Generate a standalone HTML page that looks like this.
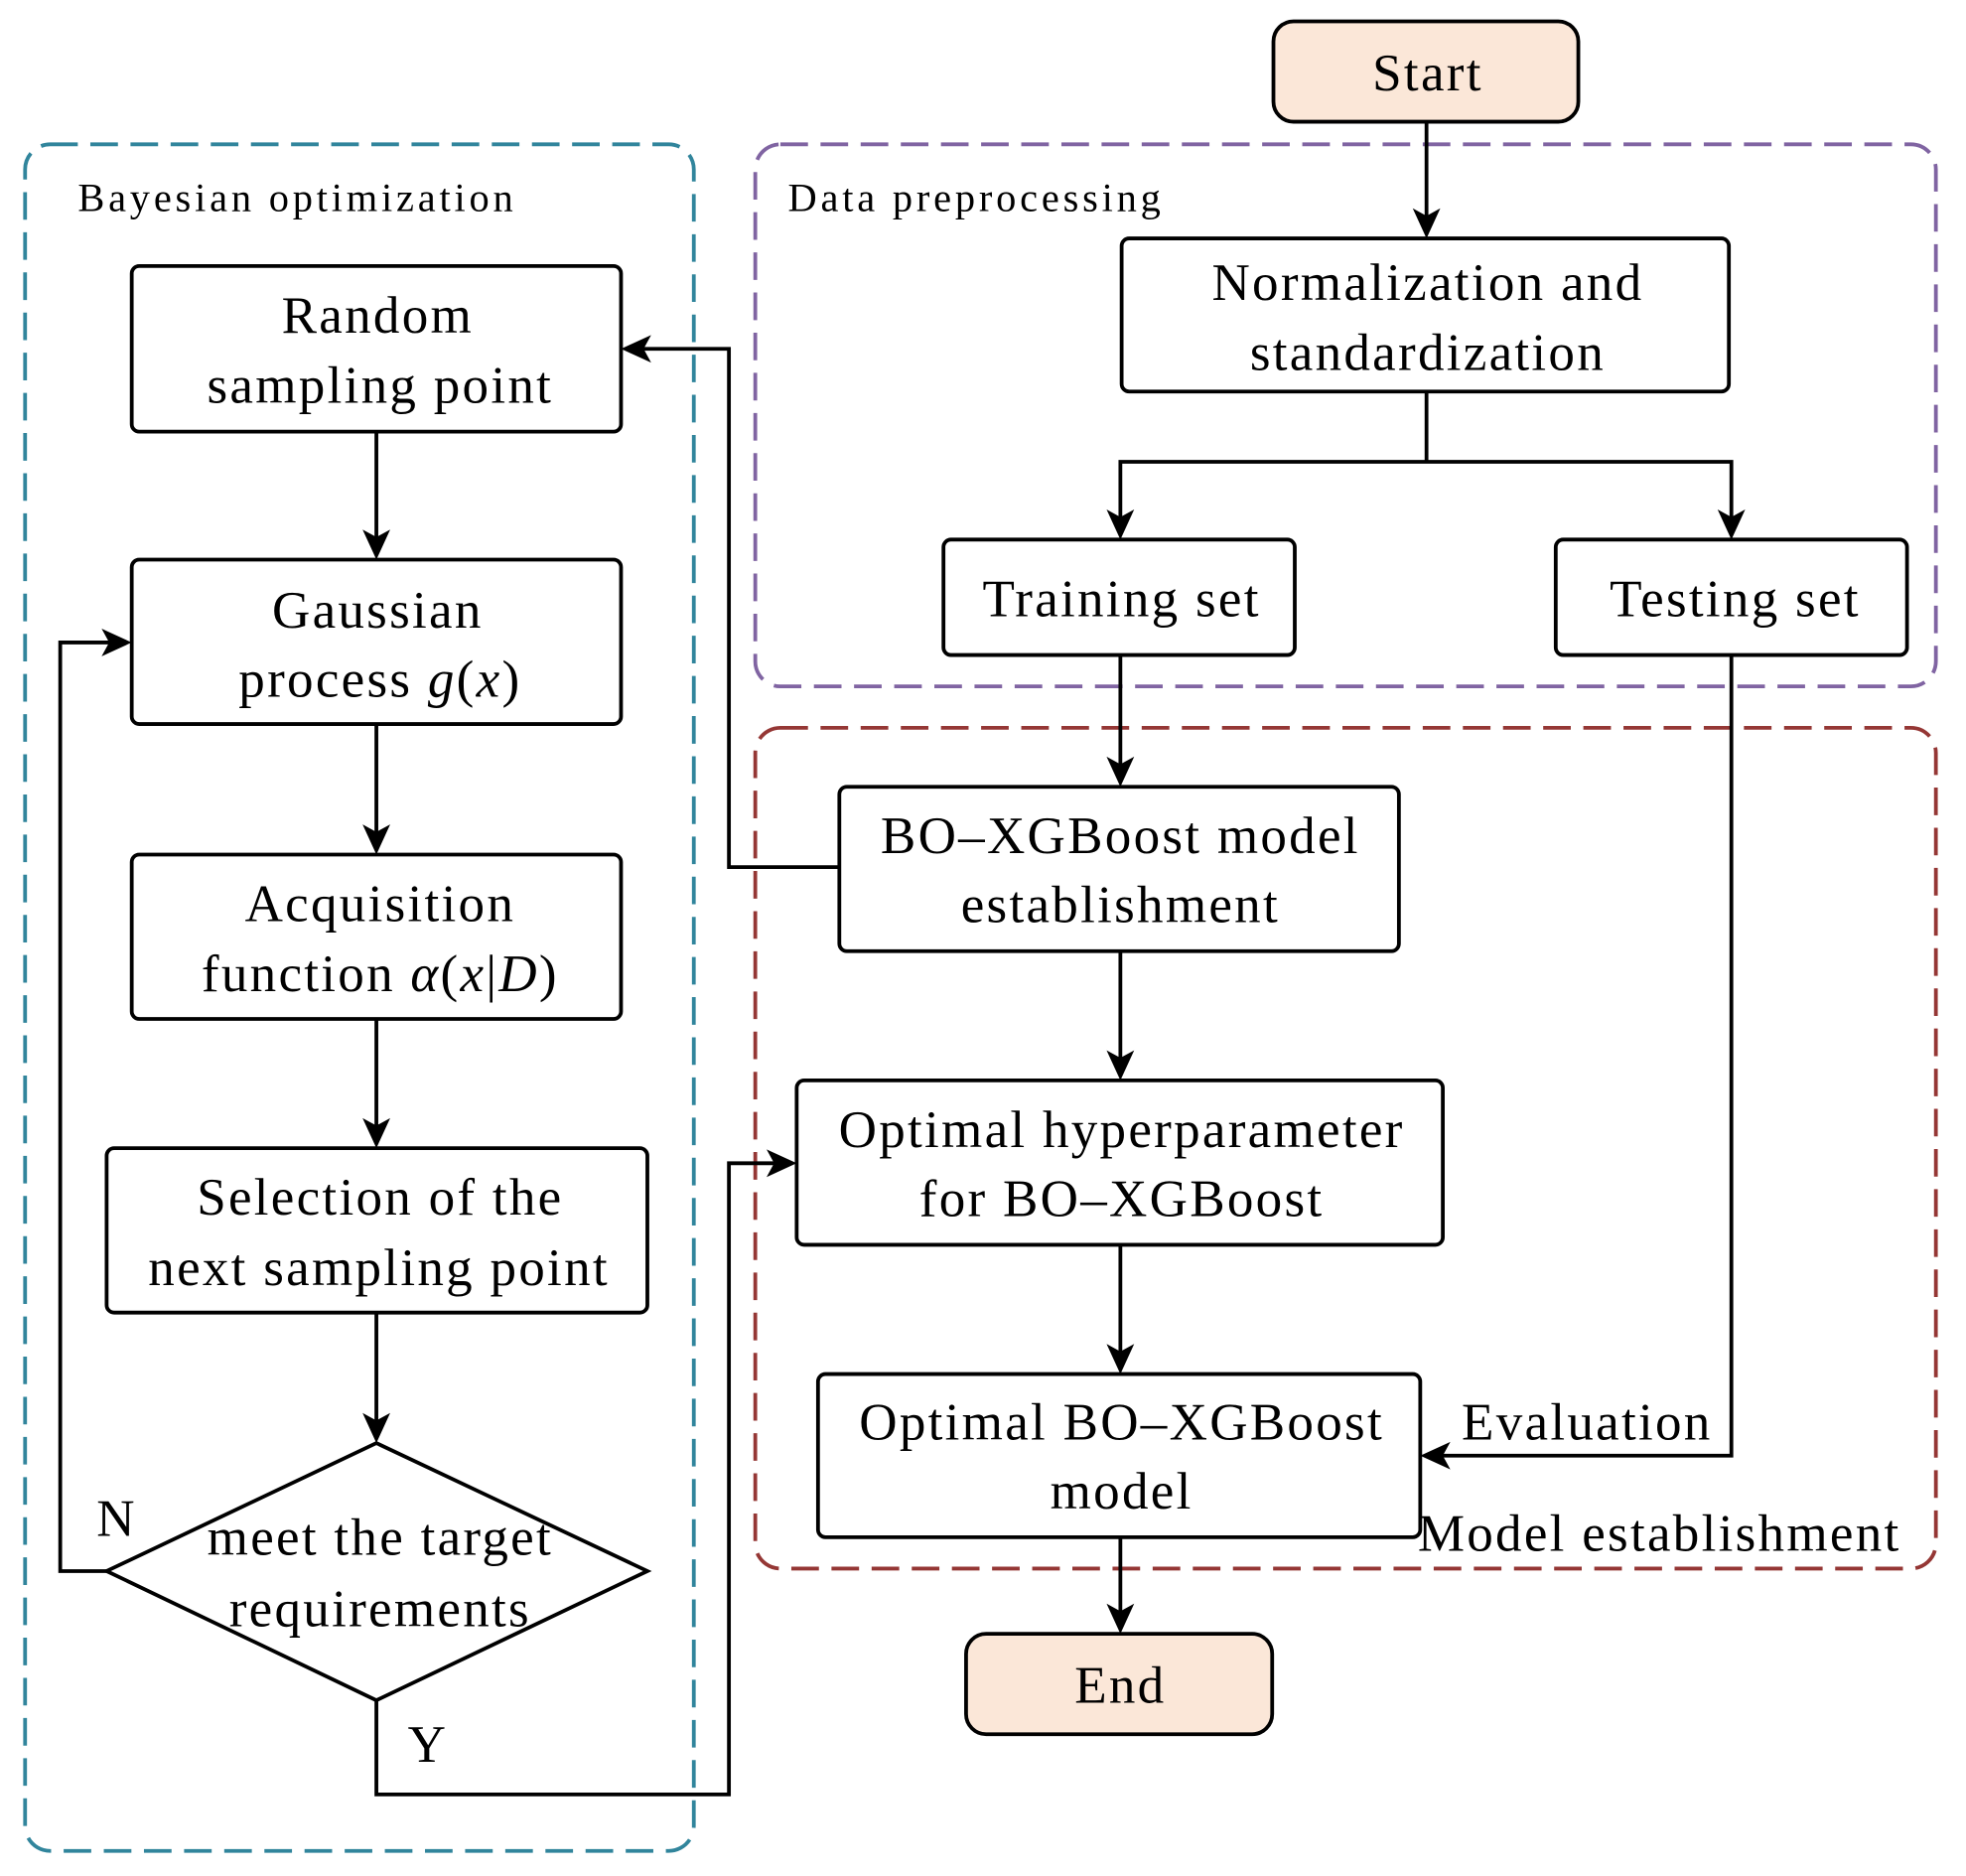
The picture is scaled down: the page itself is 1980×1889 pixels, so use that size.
<!DOCTYPE html>
<html><head><meta charset="utf-8"><style>
html,body{margin:0;padding:0;background:#fff;}
svg{display:block;}
text{font-family:"Liberation Serif",serif;fill:#000;}
</style></head><body>
<svg width="1980" height="1889" viewBox="0 0 1567 1495" preserveAspectRatio="none" xmlns="http://www.w3.org/2000/svg">
<g fill="none" stroke-width="3" stroke-dasharray="22,10">
<rect x="20" y="115" width="533" height="1360" rx="20" stroke="#31859c"/>
<rect x="602" y="115" width="941" height="432" rx="20" stroke="#8064a2"/>
<rect x="602" y="580" width="941" height="670" rx="20" stroke="#953735"/>
</g>
<g stroke="#000" stroke-width="3">
<rect x="1015" y="17" width="243" height="80" rx="16" fill="#fbe7d8"/>
<rect x="770" y="1302" width="244" height="80" rx="16" fill="#fbe7d8"/>
<g fill="#fff">
<rect x="894" y="190" width="484" height="122" rx="6"/>
<rect x="752" y="430" width="280" height="92" rx="6"/>
<rect x="1240" y="430" width="280" height="92" rx="6"/>
<rect x="669" y="627" width="446" height="131" rx="6"/>
<rect x="635" y="861" width="515" height="131" rx="6"/>
<rect x="652" y="1095" width="480" height="130" rx="6"/>
<rect x="105" y="212" width="390" height="132" rx="6"/>
<rect x="105" y="446" width="390" height="131" rx="6"/>
<rect x="105" y="681" width="390" height="131" rx="6"/>
<rect x="85" y="915" width="431" height="131" rx="6"/>
<polygon points="85,1252 300,1150 516,1252 300,1355"/>
</g>
<g fill="none">
<polyline points="1137,97 1137,178"/>
<polyline points="1137,312 1137,368"/>
<polyline points="893,418 893,368 1380,368 1380,418"/>
<polyline points="893,522 893,615"/>
<polyline points="893,758 893,849"/>
<polyline points="893,992 893,1083"/>
<polyline points="893,1225 893,1290"/>
<polyline points="1380,522 1380,1160 1144,1160"/>
<polyline points="669,691 581,691 581,278 507,278"/>
<polyline points="300,344 300,434"/>
<polyline points="300,577 300,669"/>
<polyline points="300,812 300,903"/>
<polyline points="300,1046 300,1138"/>
<polyline points="85,1252 48,1252 48,512 93,512"/>
<polyline points="300,1355 300,1430 581,1430 581,927 623,927"/>
</g>
</g>
<g fill="#000">
<polygon points="1137,190 1126,166 1137,172 1148,166"/>
<polygon points="893,430 882,406 893,412 904,406"/>
<polygon points="1380,430 1369,406 1380,412 1391,406"/>
<polygon points="893,627 882,603 893,609 904,603"/>
<polygon points="893,861 882,837 893,843 904,837"/>
<polygon points="893,1095 882,1071 893,1077 904,1071"/>
<polygon points="893,1302 882,1278 893,1284 904,1278"/>
<polygon points="1132,1160 1156,1149 1150,1160 1156,1171"/>
<polygon points="495,278 519,267 513,278 519,289"/>
<polygon points="300,446 289,422 300,428 311,422"/>
<polygon points="300,681 289,657 300,663 311,657"/>
<polygon points="300,915 289,891 300,897 311,891"/>
<polygon points="300,1150 289,1126 300,1132 311,1126"/>
<polygon points="105,512 81,501 87,512 81,523"/>
<polygon points="635,927 611,916 617,927 611,938"/>
</g>
<g font-size="32" letter-spacing="3">
<text x="62" y="168">Bayesian optimization</text>
<text x="628" y="168">Data preprocessing</text>
</g>
<g font-size="42" text-anchor="middle" letter-spacing="1.8">
<text x="1138" y="72">Start</text>
<text x="893" y="1357">End</text>
<text x="1138" y="239">Normalization and</text>
<text x="1138" y="295">standardization</text>
<text x="894" y="491">Training set</text>
<text x="1383" y="491">Testing set</text>
<text x="893" y="680">BO–XGBoost model</text>
<text x="893" y="735">establishment</text>
<text x="894" y="914">Optimal hyperparameter</text>
<text x="894" y="969">for BO–XGBoost</text>
<text x="894" y="1147">Optimal BO–XGBoost</text>
<text x="894" y="1202">model</text>
<text x="301" y="265">Random</text>
<text x="303" y="321">sampling point</text>
<text x="301" y="500">Gaussian</text>
<text x="303" y="555">process <tspan font-style="italic">g</tspan>(<tspan font-style="italic">x</tspan>)</text>
<text x="303" y="734">Acquisition</text>
<text x="303" y="790">function <tspan font-style="italic">α</tspan>(<tspan font-style="italic">x</tspan>|<tspan font-style="italic">D</tspan>)</text>
<text x="303" y="968">Selection of the</text>
<text x="302" y="1024">next sampling point</text>
<text x="303" y="1239">meet the target</text>
<text x="303" y="1296">requirements</text>
</g>
<g font-size="42" letter-spacing="1.8">
<text x="1165" y="1147">Evaluation</text>
<text x="1130" y="1236">Model establishment</text>
<text x="77" y="1224">N</text>
<text x="325" y="1404">Y</text>
</g>
</svg>
</body></html>
